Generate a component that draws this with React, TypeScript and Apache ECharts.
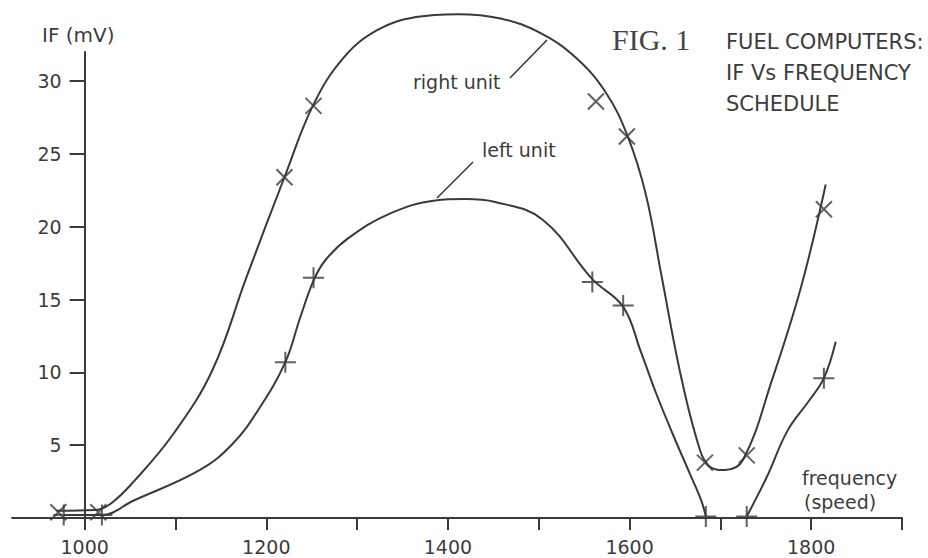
import React, { useEffect, useRef } from "react";
import * as echarts from "echarts";

// ---- data ----
const xTickValues = [1000, 1100, 1200, 1300, 1400, 1500, 1600, 1700, 1800, 1900];
const xLabelValues = [1000, 1200, 1400, 1600, 1800];
const yTickValues = [5, 10, 15, 20, 25, 30];

// measured points (X = right unit, + = left unit)
const rightUnitMarks: [number, number][] = [
  [971, 0.4], [1015, 0.4], [1220, 23.4], [1252, 28.3], [1563, 28.6],
  [1597, 26.2], [1683, 3.8], [1729, 4.3], [1814, 21.2],
];
const leftUnitMarks: [number, number][] = [
  [977, 0.2], [1019, 0.2], [1221, 10.7], [1252, 16.5], [1559, 16.2],
  [1593, 14.6], [1684, 0.1], [1729, 0.1], [1814, 9.6],
];

// hand-drawn fitted curves
const rightUnitCurve: [number, number][] = [
  [969, 0.5], [1012, 0.55], [1029, 1.0], [1054, 2.5], [1098, 5.8], [1141, 10.2],
  [1178, 16.5], [1220, 23.4], [1252, 28.4], [1285, 31.6], [1322, 33.5],
  [1365, 34.4], [1411, 34.6], [1458, 34.3], [1502, 33.3], [1541, 31.6],
  [1574, 29.2], [1598, 26.2], [1618, 22.2], [1635, 16.7], [1655, 10.2],
  [1674, 5.4], [1687, 3.6], [1705, 3.3], [1725, 4.0], [1757, 9.5],
  [1789, 15.9], [1816, 22.9],
];
const leftUnitCurveA: [number, number][] = [
  [977, 0.2], [1018, 0.2], [1054, 1.2], [1127, 3.3], [1163, 5.1], [1192, 7.5],
  [1221, 10.7], [1237, 13.7], [1252, 16.3], [1265, 17.7], [1290, 19.2],
  [1336, 20.9], [1386, 21.8], [1419, 21.9], [1452, 21.7], [1504, 20.5],
  [1559, 16.4], [1593, 14.5], [1612, 11.5], [1629, 8.6], [1648, 5.7],
  [1666, 3.1], [1679, 1.2], [1684, 0.1],
];
const leftUnitCurveB: [number, number][] = [
  [1729, 0.1], [1751, 2.8], [1774, 6.0], [1797, 8.0], [1814, 9.6], [1827, 12.1],
];

const X_MIN = 920;
const X_MAX = 1900;
const Y_MIN = 0;
const Y_MAX = 32;

const INK = "#3a3a3a";
const TEXT = "#3c3c3c";
const SANS = "DejaVu Sans";

const W = 928;
const H = 558;
const GRID_LEFT = 12;
const GRID_RIGHT = 26;
const GRID_TOP = 52;
const GRID_BOTTOM = 40;

const xSymbol = "path://M0,0L16,16M16,0L0,16";
const plusSymbol = "path://M10,0L10,20M0,10L20,10";

export default function App() {
  const ref = useRef<HTMLDivElement>(null);
  useEffect(() => {
    document.body.style.margin = "0";
    if (!ref.current) return;
    const chart = echarts.init(ref.current, null, { renderer: "svg" });
    const gridWidth = W - GRID_LEFT - GRID_RIGHT;
    const yOffset = -((1000 - X_MIN) * gridWidth) / (X_MAX - X_MIN);

    const curveStyle = { color: INK, width: 2 };
    const curve = (name: string, data: [number, number][]) => ({
      name,
      type: "line",
      data,
      smooth: 0.4,
      showSymbol: false,
      clip: false,
      lineStyle: curveStyle,
      silent: true,
    });
    chart.setOption({
      animation: false,
      backgroundColor: "#ffffff",
      title: [
        {
          text: "FIG. 1",
          left: 612,
          top: 24,
          padding: 0,
          textStyle: { fontFamily: "Liberation Serif", fontSize: 30, fontWeight: "normal", color: "#444" },
        },
        {
          text: "FUEL COMPUTERS:\nIF Vs FREQUENCY\nSCHEDULE",
          left: 726,
          top: 26,
          padding: 0,
          textStyle: { fontFamily: SANS, fontSize: 21, fontWeight: "normal", color: TEXT, lineHeight: 31 },
        },
      ],
      grid: { left: GRID_LEFT, right: GRID_RIGHT, top: GRID_TOP, bottom: GRID_BOTTOM },
      xAxis: {
        type: "value",
        min: X_MIN,
        max: X_MAX,
        axisLine: { show: true, onZero: false, lineStyle: { color: INK, width: 2 } },
        axisTick: { show: true, customValues: xTickValues, length: 12, lineStyle: { color: INK, width: 2 } },
        axisLabel: {
          customValues: xLabelValues,
          formatter: (v: number) => String(v),
          margin: 19,
          color: TEXT,
          fontFamily: SANS,
          fontSize: 19,
        },
        splitLine: { show: false },
      },
      yAxis: {
        type: "value",
        min: Y_MIN,
        max: Y_MAX,
        offset: yOffset,
        axisLine: { show: true, onZero: false, lineStyle: { color: INK, width: 2 } },
        axisTick: { show: true, customValues: yTickValues, length: 15, lineStyle: { color: INK, width: 2 } },
        axisLabel: {
          customValues: yTickValues,
          formatter: (v: number) => String(v),
          margin: 23,
          color: TEXT,
          fontFamily: SANS,
          fontSize: 19,
        },
        splitLine: { show: false },
      },
      graphic: [
        { type: "text", left: 42, top: 25, style: { text: "IF (mV)", fill: TEXT, font: `20px "${SANS}"` } },
        { type: "text", x: 413, y: 82, style: { text: "right unit", fill: TEXT, font: `19px "${SANS}"`, verticalAlign: "middle" } },
        { type: "text", x: 482, y: 150, style: { text: "left unit", fill: TEXT, font: `19px "${SANS}"`, verticalAlign: "middle" } },
        { type: "text", x: 802, y: 478, style: { text: "frequency", fill: TEXT, font: `19px "${SANS}"`, verticalAlign: "middle" } },
        { type: "text", x: 804, y: 502, style: { text: "(speed)", fill: TEXT, font: `19px "${SANS}"`, verticalAlign: "middle" } },
        { type: "line", shape: { x1: 510, y1: 78, x2: 547, y2: 40 }, style: { stroke: INK, lineWidth: 1.6 } },
        { type: "line", shape: { x1: 473, y1: 162, x2: 437, y2: 198 }, style: { stroke: INK, lineWidth: 1.6 } },
      ],
      series: [
        curve("right unit curve", rightUnitCurve),
        curve("left unit curve", leftUnitCurveA),
        curve("left unit curve (upper branch)", leftUnitCurveB),
        {
          name: "right unit",
          type: "scatter",
          data: rightUnitMarks,
          symbol: xSymbol,
          symbolSize: 16,
          clip: false,
          itemStyle: { color: "transparent", borderColor: INK, borderWidth: 2 },
        },
        {
          name: "left unit",
          type: "scatter",
          data: leftUnitMarks,
          symbol: plusSymbol,
          symbolSize: 21,
          clip: false,
          itemStyle: { color: "transparent", borderColor: INK, borderWidth: 2 },
        },
      ],
    });
    return () => chart.dispose();
  }, []);
  return <div ref={ref} style={{ width: W, height: H }} />;
}
